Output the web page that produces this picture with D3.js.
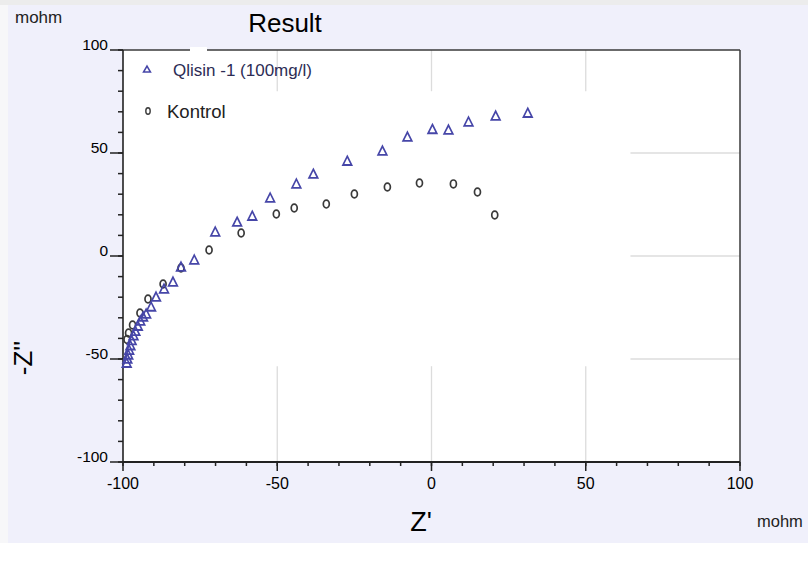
<!DOCTYPE html>
<html>
<head>
<meta charset="utf-8">
<script src="https://cdn.jsdelivr.net/npm/d3@7"></script>
<style>
  html, body { margin: 0; padding: 0; background: #ffffff; }
  svg { display: block; }
  text { font-family: Arial, "Liberation Sans", sans-serif; }
</style>
</head>
<body>
<svg id="chart" width="808" height="571"></svg>
<script>
// ---- data ----
const qlisinX = [-98.8, -98.6, -98.3, -98.0, -97.6, -97.2, -96.6, -96.0, -95.2, -94.4, -93.5, -92.5, -90.9, -89.3, -86.7, -83.8, -81.2, -76.9, -70.1, -63.0, -58.1, -52.3, -43.8, -38.3, -27.3, -15.9, -7.8, 0.3, 5.5, 12.0, 20.8, 31.2];
const qlisinY = [-52.5, -50.5, -48.5, -46.2, -44.0, -41.5, -39.2, -37.0, -34.5, -32.0, -30.0, -28.6, -25.2, -20.4, -16.5, -13.1, -5.8, -2.4, 11.2, 16.0, 18.9, 27.7, 34.5, 39.3, 45.6, 50.5, 57.3, 61.0, 60.7, 64.6, 67.5, 68.9];
const kontrolX = [-98.7, -98.2, -96.9, -94.5, -91.9, -87.0, -81.2, -72.1, -61.7, -50.3, -44.5, -34.1, -25.0, -14.3, -3.9, 7.1, 14.9, 20.5];
const kontrolY = [-40.5, -37.4, -33.5, -27.7, -20.9, -13.6, -5.8, 2.9, 11.2, 20.4, 23.3, 25.2, 30.1, 33.5, 35.4, 35.0, 31.1, 19.9];
const xTickLabels = [-100, -50, 0, 50, 100];
const yTickLabels = [100, 50, 0, -50, -100];
const seriesNames = ["Qlisin -1 (100mg/l)", "Kontrol"];
const titleText = "Result";

// ---- layout ----
const svg = d3.select("#chart");
const x = d3.scaleLinear().domain([-100, 100]).range([123, 740]);
const y = d3.scaleLinear().domain([-100, 100]).range([462, 50]);

// backgrounds
svg.append("rect").attr("x", 0).attr("y", 0).attr("width", 808).attr("height", 571).attr("fill", "#ffffff");
svg.append("rect").attr("x", 0).attr("y", 0).attr("width", 808).attr("height", 5).attr("fill", "#ececec");
svg.append("rect").attr("x", 0).attr("y", 5).attr("width", 8).attr("height", 538).attr("fill", "#f7f7f9");
svg.append("rect").attr("x", 8).attr("y", 5).attr("width", 800).attr("height", 538).attr("fill", "#f0f0fb");
svg.append("rect").attr("x", x(-100)).attr("y", y(100))
  .attr("width", x(100) - x(-100)).attr("height", y(-100) - y(100)).attr("fill", "#ffffff");

// partial gridlines
const gridColor = "#dcdcdc";
const g = svg.append("g");
[-50, 0, 50].forEach(v => {
  g.append("line").attr("x1", x(v)).attr("x2", x(v)).attr("y1", y(100)).attr("y2", y(80))
    .attr("stroke", gridColor).attr("stroke-width", 1.3);
  g.append("line").attr("x1", x(v)).attr("x2", x(v)).attr("y1", y(-53.5)).attr("y2", y(-100))
    .attr("stroke", gridColor).attr("stroke-width", 1.3);
  g.append("line").attr("x1", x(64.5)).attr("x2", x(100)).attr("y1", y(v)).attr("y2", y(v))
    .attr("stroke", gridColor).attr("stroke-width", 1.3);
});

// frame top/right
svg.append("line").attr("x1", x(-100)).attr("x2", x(100)).attr("y1", y(100)).attr("y2", y(100))
  .attr("stroke", "#3a3a3a").attr("stroke-width", 1.5);
svg.append("line").attr("x1", x(100)).attr("x2", x(100)).attr("y1", y(100)).attr("y2", y(-100))
  .attr("stroke", "#3a3a3a").attr("stroke-width", 1.5);
// small gap in top border
svg.append("rect").attr("x", 190).attr("y", 47).attr("width", 17).attr("height", 5).attr("fill", "#ffffff");

// Y axis
const yMinor = d3.range(-100, 101, 10);
const yAxis = svg.append("g");
yAxis.append("line").attr("x1", x(-100)).attr("x2", x(-100)).attr("y1", y(100)).attr("y2", y(-100))
  .attr("stroke", "#222").attr("stroke-width", 1.6);
yAxis.selectAll("line.minor").data(yMinor).join("line").attr("class", "minor")
  .attr("x1", x(-100) - 5).attr("x2", x(-100)).attr("y1", d => y(d)).attr("y2", d => y(d))
  .attr("stroke", "#222").attr("stroke-width", 1.5);
yAxis.selectAll("line.major").data(yTickLabels).join("line").attr("class", "major")
  .attr("x1", x(-100) - 13).attr("x2", x(-100)).attr("y1", d => y(d)).attr("y2", d => y(d))
  .attr("stroke", "#222").attr("stroke-width", 1.5);
yAxis.selectAll("text").data(yTickLabels).join("text")
  .attr("x", x(-100) - 15).attr("y", d => y(d)).attr("text-anchor", "end")
  .attr("font-size", 15.5).attr("fill", "#000").text(d => d);

// X axis
const xMinor = d3.range(-100, 101, 10);
const xAxis = svg.append("g");
xAxis.append("line").attr("x1", x(-100)).attr("x2", x(100)).attr("y1", y(-100)).attr("y2", y(-100))
  .attr("stroke", "#222").attr("stroke-width", 1.8);
xAxis.selectAll("line.minor").data(xMinor).join("line").attr("class", "minor")
  .attr("x1", d => x(d)).attr("x2", d => x(d)).attr("y1", y(-100)).attr("y2", y(-100) + 4)
  .attr("stroke", "#222").attr("stroke-width", 1.5);
xAxis.selectAll("line.major").data(xTickLabels).join("line").attr("class", "major")
  .attr("x1", d => x(d)).attr("x2", d => x(d)).attr("y1", y(-100)).attr("y2", y(-100) + 9)
  .attr("stroke", "#222").attr("stroke-width", 1.5);
xAxis.selectAll("text").data(xTickLabels).join("text")
  .attr("x", d => x(d)).attr("y", 489).attr("text-anchor", "middle")
  .attr("font-size", 16).attr("fill", "#000").text(d => d);

// Titles / units
svg.append("text").attr("x", 285).attr("y", 32).attr("text-anchor", "middle")
  .attr("font-size", 26).attr("fill", "#000").text(titleText);
svg.append("text").attr("x", 15).attr("y", 23).attr("font-size", 17).attr("fill", "#222").text("mohm");
svg.append("text").attr("x", 757).attr("y", 527).attr("font-size", 16.5).attr("fill", "#222").text("mohm");
svg.append("text").attr("x", 421).attr("y", 531).attr("text-anchor", "middle")
  .attr("font-size", 27).attr("fill", "#000").text("Z'");
svg.append("text").attr("transform", "translate(32,358) rotate(-90)").attr("text-anchor", "middle")
  .attr("font-size", 26).attr("fill", "#000").text("-Z''");

// data marks
const qlisin = qlisinX.map((v, i) => [v, qlisinY[i]]);
const kontrol = kontrolX.map((v, i) => [v, kontrolY[i]]);
const tri = d3.symbol(d3.symbolTriangle).size(36);
const triColor = "#4646a8";
const circColor = "#3a3a3a";

svg.append("g").selectAll("ellipse").data(kontrol).join("ellipse")
  .attr("cx", d => x(d[0])).attr("cy", d => y(d[1])).attr("rx", 3).attr("ry", 3.9)
  .attr("fill", "none").attr("stroke", circColor).attr("stroke-width", 1.7);

svg.append("g").selectAll("path").data(qlisin).join("path")
  .attr("d", tri).attr("transform", d => `translate(${x(d[0])},${y(d[1])}) scale(0.95,1.1)`)
  .attr("fill", "none").attr("stroke", triColor).attr("stroke-width", 1.7);

// legend
const leg = svg.append("g");
leg.append("path").attr("d", d3.symbol(d3.symbolTriangle).size(20))
  .attr("transform", "translate(147,70)").attr("fill", "none").attr("stroke", triColor).attr("stroke-width", 1.6);
leg.append("text").attr("x", 173).attr("y", 76).attr("font-family", "'Open Sans', 'Noto Sans', sans-serif")
  .attr("font-size", 17).attr("fill", "#2c2c55").text(seriesNames[0]);
leg.append("ellipse").attr("cx", 148).attr("cy", 111).attr("rx", 2.2).attr("ry", 3.2)
  .attr("fill", "none").attr("stroke", circColor).attr("stroke-width", 1.4);
leg.append("text").attr("x", 167).attr("y", 118).attr("font-family", "'Open Sans', 'Noto Sans', sans-serif")
  .attr("font-size", 18.5).attr("fill", "#222").text(seriesNames[1]);
</script>
</body>
</html>
